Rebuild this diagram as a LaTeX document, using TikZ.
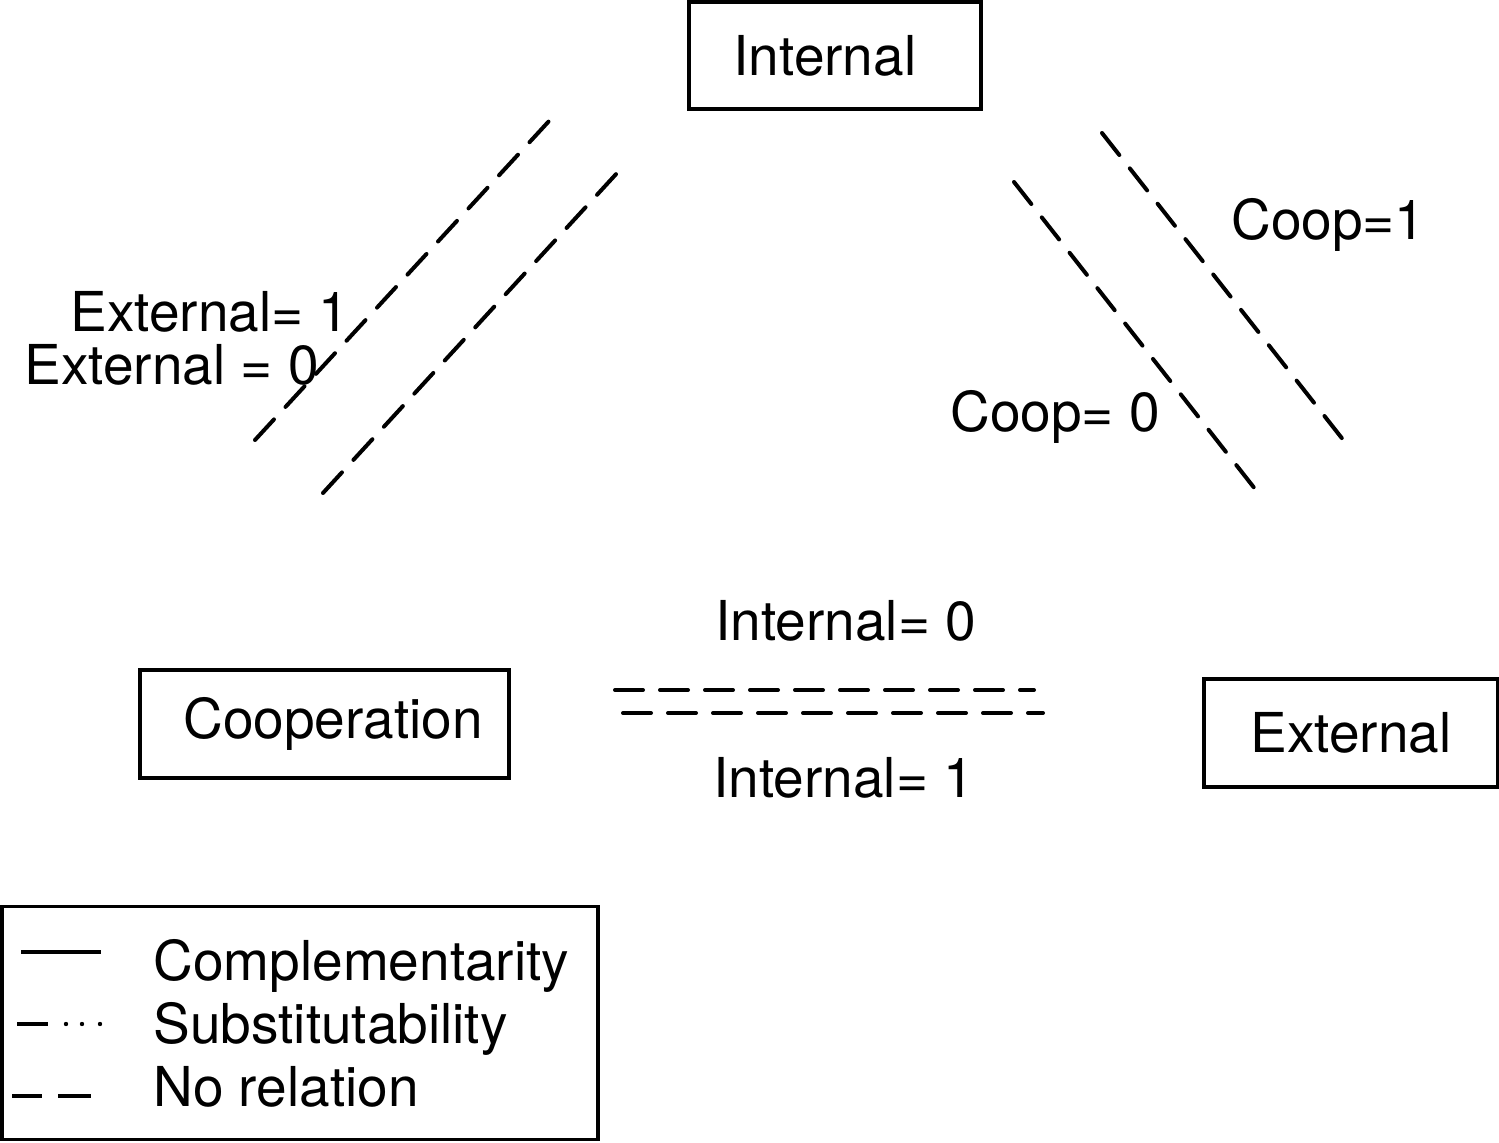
\documentclass[tikz,border=0pt]{standalone}
\usepackage{fontspec}
\setmainfont{TeX Gyre Heros}
\usepackage{tikz}
\tikzset{box/.style = {shape=rectangle,draw,line width=1.7pt,inner sep=0pt}}
\tikzset{lab/.style = {anchor=base west,inner sep=0pt}}
\tikzset{norel/.style = {-,line width=2pt,line cap=round,dash pattern=on 14pt off 8.5pt}}
\tikzset{legline/.style = {-,line width=2pt}}

\begin{document}
\begin{tikzpicture}[x=0.5pt,y=-0.5pt]
\fontsize{27.5}{33}\selectfont
\useasboundingbox (0,0) rectangle (1499,1143);
% boxes
\node[box,minimum width=146pt,minimum height=53.5pt] (int) at (835,55.5) {Internal\hspace*{10pt}};
\node[box,minimum width=184.5pt,minimum height=54pt] (coop) at (324.5,724) {\hspace*{8.5pt}Cooperation};
\node[box,minimum width=147pt,minimum height=54pt] (ext) at (1351,733) {External};

% line ends
\coordinate (lo1) at (255,440);  \coordinate (lo2) at (550,120);
\coordinate (li1) at (323,493);  \coordinate (li2) at (618,172);
\coordinate (ri1) at (1014,182); \coordinate (ri2) at (1259,494);
\coordinate (ro1) at (1102,133); \coordinate (ro2) at (1348,446);
\coordinate (ht1) at (615,690);  \coordinate (ht2) at (1034,690);
\coordinate (hb1) at (623,713);  \coordinate (hb2) at (1043,713);

% lines
\draw[norel] (lo1) -- (lo2);
\draw[norel] (li1) -- (li2);
\draw[norel] (ri1) -- (ri2);
\draw[norel] (ro1) -- (ro2);
\draw[norel] (ht1) -- (ht2);
\draw[norel] (hb1) -- (hb2);

% labels
\node[lab] (e1) at (70,332) {External= 1};
\node[lab] (e0) at (24,385) {External = 0};
\node[lab] (c1) at (1231,240) {Coop=1};
\node[lab] (c0) at (950,432) {Coop= 0};
\node[lab] (i0) at (715,641) {Internal= 0};
\node[lab] (i1) at (713,798) {Internal= 1};

% legend
\node[box,minimum width=298pt,minimum height=116.5pt] (leg) at (300,1023) {};
\coordinate (k1) at (21,952);  \coordinate (k2) at (101,952);
\coordinate (s1) at (17,1024); \coordinate (s2) at (48,1024);
\coordinate (n1) at (12,1096); \coordinate (n2) at (42,1096);
\coordinate (n3) at (58,1096); \coordinate (n4) at (91,1096);
\draw[legline] (k1) -- (k2);
\draw[legline] (s1) -- (s2);
\foreach \x in {66,82,100}
  \fill (\x,1024) circle (1.1pt);
\draw[legline] (n1) -- (n2);
\draw[legline] (n3) -- (n4);
\node[lab] (lk) at (153,980) {Complementarity};
\node[lab] (ls) at (153,1043) {Substitutability};
\node[lab] (ln) at (153,1106) {No relation};
\end{tikzpicture}
\end{document}
